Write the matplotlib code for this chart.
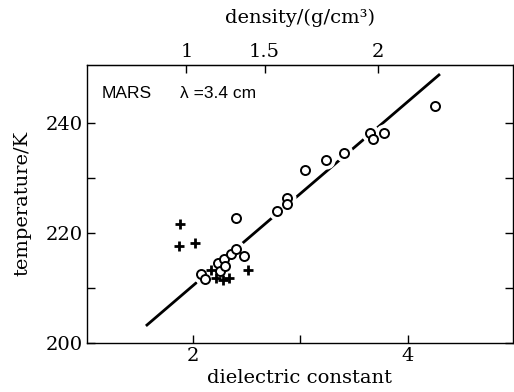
import numpy as np
import matplotlib
matplotlib.use("Agg")
import matplotlib.pyplot as plt
from matplotlib.ticker import FixedLocator, NullFormatter

# open circles
circ_eps = [2.07, 2.11, 2.23, 2.25, 2.29, 2.30, 2.35, 2.40, 2.47, 2.40,
            2.78, 2.87, 2.87, 3.04, 3.24, 3.41, 3.65, 3.68, 3.78, 4.25]
circ_T = [212.5, 211.5, 214.5, 213.1, 215.3, 213.9, 216.2, 217.0, 215.7, 222.6,
          224.0, 226.4, 225.2, 231.4, 233.2, 234.5, 238.2, 237.1, 238.2, 243.0]

# crosses
cross_eps = [1.88, 1.87, 2.02, 2.17, 2.21, 2.28, 2.33, 2.51]
cross_T = [221.6, 217.6, 218.1, 213.2, 211.7, 211.4, 211.7, 213.2]

# fitted line
fit_eps = [1.57, 4.29]
fit_T = [203.2, 248.7]

rho_ticks = [1, 1.5, 2]
rho_labels = ["1", "1.5", "2"]
K = 0.238


def eps_to_rho(e):
    e = np.asarray(e, dtype=float)
    return (e - 1) / (e + 2) / K


def rho_to_eps(r):
    r = np.asarray(r, dtype=float)
    k = K * r
    return (1 + 2 * k) / (1 - k)


plt.rcParams["font.family"] = "DejaVu Serif"
fs = 14

fig = plt.figure(figsize=(5.14, 3.92), dpi=100)
ax = fig.add_axes([0.169, 0.126, 0.829, 0.708])

ax.plot(fit_eps, fit_T, color="black", lw=2.0, zorder=1)
# white halo around circles (line is broken by the points)
ax.plot(circ_eps, circ_T, "o", ms=12, mfc="white", mec="white", zorder=2)
ax.plot(circ_eps, circ_T, "o", ms=6.5, mfc="white", mec="black", mew=1.4, zorder=3)
ax.plot(cross_eps, cross_T, "+", ms=7, mec="black", mew=2.0, zorder=4)

ax.set_xlim(1.01, 4.98)
ax.set_ylim(200, 250.5)

ax.xaxis.set_major_locator(FixedLocator([2, 4]))
ax.xaxis.set_minor_locator(FixedLocator([3]))
ax.yaxis.set_major_locator(FixedLocator([200, 220, 240]))
ax.yaxis.set_minor_locator(FixedLocator([210, 230]))
ax.tick_params(which="both", direction="in", length=6, width=1,
               labelsize=fs, top=False, right=True, pad=3)

for s in ax.spines.values():
    s.set_linewidth(1.0)

ax.set_xlabel("dielectric constant", fontsize=fs, labelpad=3)
ax.set_ylabel("temperature/K", fontsize=fs, labelpad=10)

sec = ax.secondary_xaxis("top", functions=(eps_to_rho, rho_to_eps))
sec.set_xticks(rho_ticks)
sec.set_xticklabels(rho_labels)
sec.xaxis.set_minor_formatter(NullFormatter())
sec.tick_params(direction="in", length=6, width=1, labelsize=fs, pad=3)
sec.set_xlabel("density/(g/cm³)", fontsize=fs, labelpad=14)

ax.text(0.035, 0.899, "MARS", transform=ax.transAxes,
        fontsize=12.5, family="Liberation Sans", va="center", ha="left")
ax.text(0.218, 0.899, "λ =3.4 cm", transform=ax.transAxes,
        fontsize=12.5, family="Liberation Sans", va="center", ha="left")

fig.savefig("out.png", dpi=100)
